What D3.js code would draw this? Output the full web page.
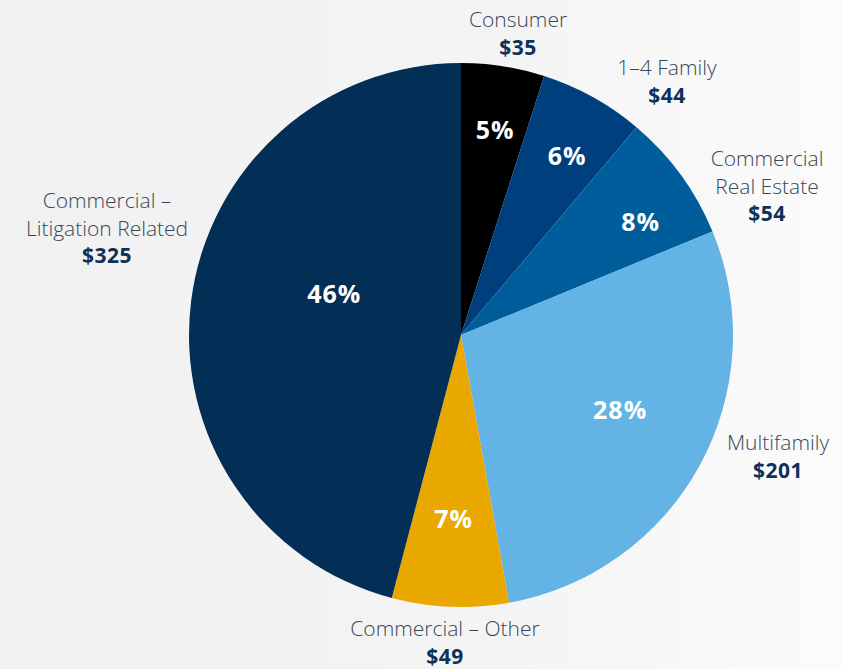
<!DOCTYPE html>
<html lang="en">
<head>
<meta charset="utf-8">
<title>Loan portfolio pie</title>
<script src="https://d3js.org/d3.v7.min.js"></script>
<style>
  html, body { margin: 0; padding: 0; }
  body { width: 842px; height: 669px; overflow: hidden; }
  .cat { font-family: "Open Sans", Lato, sans-serif; font-size: 21px; font-weight: 300; fill: #35475b; }
  .val { font-family: "Open Sans", Lato, sans-serif; font-size: 21px; font-weight: 700; fill: #0e3158; letter-spacing: 0.5px; }
  .pct { font-family: "Open Sans", Lato, sans-serif; font-size: 25px; font-weight: 700; fill: #ffffff; letter-spacing: 1px; }
</style>
</head>
<body>
<svg id="chart" width="842" height="669"></svg>
<script>
// data, clockwise from 12 o'clock
var categories = ["Consumer", "1\u20134 Family", "Commercial Real Estate", "Multifamily", "Commercial \u2013 Other", "Commercial \u2013 Litigation Related"];
var amounts = [35, 44, 54, 201, 49, 325];
var pctLabels = ["5%", "6%", "8%", "28%", "7%", "46%"];
var colors = ["#000000", "#003f7d", "#005d9c", "#63b4e4", "#e8a800", "#032e55"];

// label lines as they are broken in the picture
var labelLines = [["Consumer"], ["1\u20134 Family"], ["Commercial", "Real Estate"], ["Multifamily"], ["Commercial \u2013 Other"], ["Commercial \u2013", "Litigation Related"]];

// layout only
var cx = 461, cy = 335, radius = 272;
var pctRadius = [208, 208, 212, 176, 184, 133];
var pctShift = [0.01, 0.03, 0.07, -0.06, 0, 0.18]; // radians
var outerPos = [[518, 27], [667, 75], [767, 166], [778, 450], [445, 636], [107, 208]];
var lineGap = 27.5;

var svg = d3.select("#chart");

var defs = svg.append("defs");
var grad = defs.append("linearGradient").attr("id", "bg").attr("x1", "0").attr("y1", "0").attr("x2", "1").attr("y2", "0");
grad.append("stop").attr("offset", "0").attr("stop-color", "#f1f1f1");
grad.append("stop").attr("offset", "0.6").attr("stop-color", "#f4f4f4");
grad.append("stop").attr("offset", "1").attr("stop-color", "#fbfbfb");
svg.append("rect").attr("width", 842).attr("height", 669).attr("fill", "url(#bg)");

var pie = d3.pie().sort(null).value(function(d) { return d; });
var arcs = pie(amounts);
var arc = d3.arc().innerRadius(0).outerRadius(radius);

var g = svg.append("g").attr("transform", "translate(" + cx + "," + cy + ")");

g.selectAll("path.slice")
  .data(arcs)
  .enter().append("path")
    .attr("class", "slice")
    .attr("d", arc)
    .attr("fill", function(d, i) { return colors[i]; });

// percent labels inside slices
g.selectAll("text.pct")
  .data(arcs)
  .enter().append("text")
    .attr("class", "pct")
    .attr("text-anchor", "middle")
    .attr("dy", "0.35em")
    .attr("x", function(d, i) { var a = (d.startAngle + d.endAngle) / 2 + pctShift[i]; return pctRadius[i] * Math.sin(a); })
    .attr("y", function(d, i) { var a = (d.startAngle + d.endAngle) / 2 + pctShift[i]; return -pctRadius[i] * Math.cos(a); })
    .text(function(d, i) { return pctLabels[i]; });

// outer category labels with dollar values
categories.forEach(function(c, i) {
  var t = svg.append("g").attr("transform", "translate(" + outerPos[i][0] + "," + outerPos[i][1] + ")");
  var lines = labelLines[i];
  lines.forEach(function(l, j) {
    t.append("text").attr("class", "cat").attr("text-anchor", "middle")
      .attr("y", j * lineGap).text(l);
  });
  t.append("text").attr("class", "val").attr("text-anchor", "middle")
    .attr("y", lines.length * lineGap).text("$" + amounts[i]);
});
</script>
</body>
</html>
